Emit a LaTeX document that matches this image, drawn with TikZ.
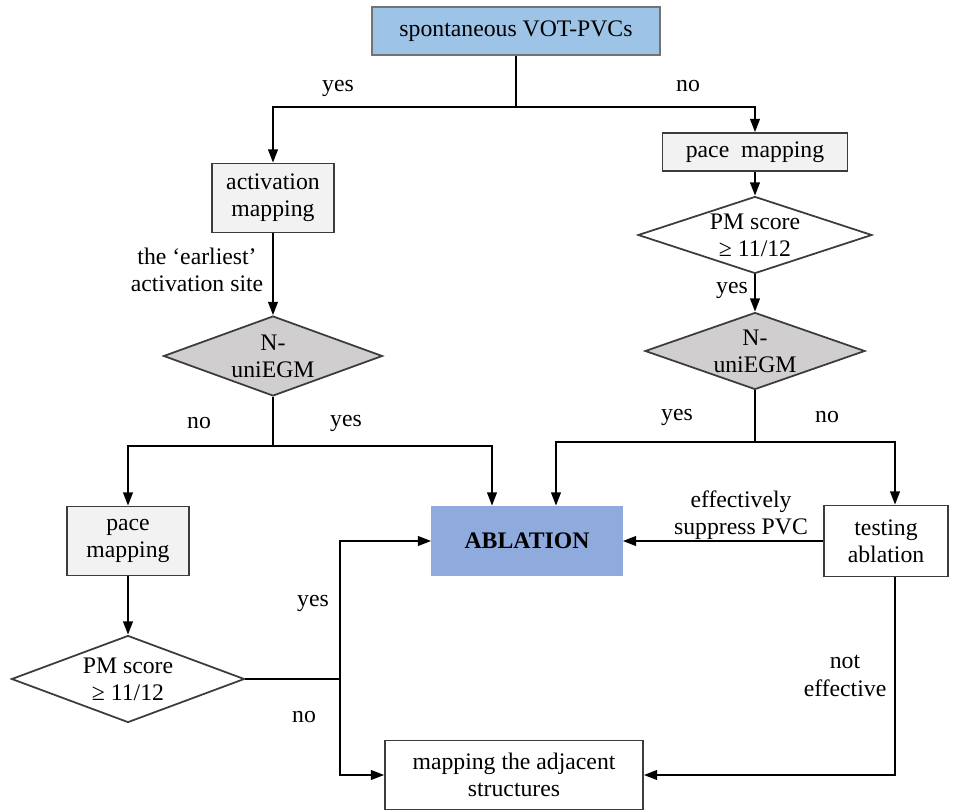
\documentclass[tikz,border=0pt]{standalone}
\usepackage{fontspec}
\setmainfont{Liberation Serif}
\usepackage{xcolor}
\usepackage{tikz}
\usetikzlibrary{shapes.geometric,arrows.meta,positioning,calc}
\definecolor{startblue}{RGB}{157,195,230}
\definecolor{ablblue}{RGB}{143,170,220}
\definecolor{boxgray}{RGB}{242,242,242}
\definecolor{diagray}{RGB}{208,206,206}
\definecolor{edgegray}{RGB}{60,60,60}
\tikzset{
  box/.style={rectangle, draw=edgegray, line width=1pt, align=center, inner sep=2pt},
  startbox/.style={box, fill=startblue, draw=gray!90!black, minimum width=5.76cm, minimum height=0.96cm},
  graybox/.style={box, fill=boxgray, minimum width=2.44cm, minimum height=1.38cm},
  whitebox/.style={box, fill=white, minimum width=2.48cm, minimum height=1.42cm},
  ablbox/.style={box, fill=ablblue, draw=ablblue, minimum width=3.8cm, minimum height=1.38cm},
  decision/.style={diamond, draw=edgegray, line width=1pt, align=center, shape aspect=3, inner sep=-4pt, minimum width=4.5cm, minimum height=1.6cm},
  graydecision/.style={decision, fill=diagray},
  arrow/.style={-{Triangle[length=7.5pt,width=5.5pt]}, line width=1pt},
  line/.style={line width=1pt},
  lbl/.style={align=center, inner sep=0pt},
}
\begin{document}
\begin{tikzpicture}[x=0.02cm, y=-0.02cm, font=\fontsize{13.5}{15.5}\selectfont]
  \useasboundingbox (0,0) rectangle (960,811);

  % Start
  \node[startbox] (start) at (516,31) {spontaneous VOT-PVCs};
  \coordinate (split1) at (516,107);

  % Left branch
  \node[graybox] (act) at (273,198) {activation\\mapping};
  \node[graydecision, minimum width=4.38cm] (neuL) at (273,356) {N-\\uniEGM};
  \coordinate (split2) at (273,446);
  \node[graybox] (paceL) at (128,541) {pace\\mapping};
  \node[decision, minimum width=4.66cm, minimum height=1.74cm] (pmL) at (128,679) {PM score\\≥ 11/12};
  \coordinate (junc) at (340,679);

  % Right branch
  \node[graybox, minimum width=3.7cm, minimum height=0.76cm] (paceR) at (755,152) {pace\ \ mapping};
  \node[decision, minimum width=4.68cm, minimum height=1.54cm] (pmR) at (755,235) {PM score\\≥ 11/12};
  \node[graydecision, minimum width=4.4cm, minimum height=1.54cm] (neuR) at (755,351) {N-\\uniEGM};
  \coordinate (split3) at (755,442);
  \node[whitebox] (test) at (886,541) {testing\\ablation};

  % Ablation and adjacent structures
  \node[ablbox] (abl) at (527,541) {\textbf{ABLATION}};
  \node[whitebox, minimum width=5.16cm, minimum height=1.38cm] (adj) at (514,775) {mapping the adjacent\\structures};

  % Arrows
  \draw[line] (start) -- (split1);
  \draw[arrow] (split1) -| (act.north);
  \draw[arrow] (split1) -| (paceR.north);
  \draw[arrow] (act) -- (neuL);
  \draw[line] (neuL.south) -- (split2);
  \draw[arrow] (split2) -| (paceL.north);
  \draw[arrow] (split2) -| ([xshift=-0.7cm]abl.north);
  \draw[arrow] (paceL) -- (pmL);
  \draw[line] (pmL.east) -- (junc);
  \draw[arrow] (junc) |- (abl.west);
  \draw[arrow] (junc) |- (adj.west);
  \draw[arrow] (paceR) -- (pmR);
  \draw[arrow] (pmR) -- (neuR);
  \draw[line] (neuR.south) -- (split3);
  \draw[arrow] (split3) -| ([xshift=0.58cm]abl.north);
  \draw[arrow] (split3) -| ([xshift=0.18cm]test.north);
  \draw[arrow] (test.west) -- (abl.east);
  \draw[arrow] ([xshift=0.18cm]test.south) |- (adj.east);

  % Labels
  \node[lbl] (l1) at (338,88) {yes};
  \node[lbl] (l2) at (688,86) {no};
  \node[lbl] (l3) at (197,270) {the ‘earliest’\\activation site};
  \node[lbl] (l4) at (732,290) {yes};
  \node[lbl] (l5) at (199,423) {no};
  \node[lbl] (l6) at (346,423) {yes};
  \node[lbl] (l7) at (677,417) {yes};
  \node[lbl] (l8) at (827,417) {no};
  \node[lbl] (l9) at (741,515) {effectively\\suppress PVC};
  \node[lbl] (l10) at (313,603) {yes};
  \node[lbl] (l11) at (304,717) {no};
  \node[lbl] (l12) at (845,676) {not\\effective};
\end{tikzpicture}
\end{document}
